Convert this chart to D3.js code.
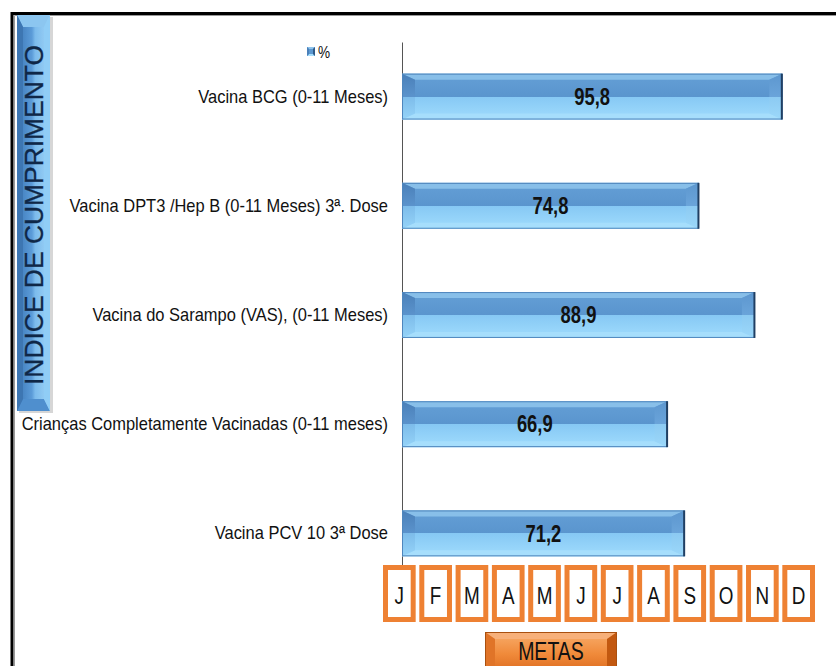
<!DOCTYPE html>
<html lang="pt">
<head>
	<meta charset="UTF-8">
	<title>Indice de cumprimento</title>
	<script src="https://d3js.org/d3.v7.min.js"></script>
	<style>
		body{ margin:0; background:#fff; }
		.narrow{ font-family:"Liberation Sans Narrow","Arial Narrow","Liberation Sans",Arial,sans-serif; }
	</style>
</head>
<body>
	<script type="text/javascript">
		var categories = [
			"Vacina BCG (0-11 Meses)",
			"Vacina DPT3 /Hep B (0-11 Meses) 3ª. Dose",
			"Vacina do Sarampo (VAS), (0-11 Meses)",
			"Crianças Completamente Vacinadas (0-11 meses)",
			"Vacina PCV 10 3ª Dose"
		];
		var values = [95.8, 74.8, 88.9, 66.9, 71.2];
		var valueLabels = ["95,8", "74,8", "88,9", "66,9", "71,2"];
		var months = ["J","F","M","A","M","J","J","A","S","O","N","D"];
		var seriesName = "%";
		var yTitle = "INDICE DE CUMPRIMENTO";
		var xButton = "METAS";

		var W = 836, H = 666;
		var svg = d3.select("body").append("svg")
			.attr("width", W).attr("height", H);

		// squeeze text horizontally (no narrow font installed)
		function squeeze(sel, f){
			sel.each(function(){
				var len = this.getComputedTextLength();
				d3.select(this).attr("textLength", len * f).attr("lengthAdjust", "spacingAndGlyphs");
			});
		}

		var defs = svg.append("defs");
		function grad(id, stops, horiz){
			var g = defs.append("linearGradient").attr("id", id)
				.attr("x1",0).attr("y1",0)
				.attr("x2", horiz ? 1 : 0).attr("y2", horiz ? 0 : 1);
			stops.forEach(function(s){
				g.append("stop").attr("offset", s[0]).attr("stop-color", s[1]);
			});
		}
		grad("barFace", [[0,"#649fd6"],[0.5,"#5a95ce"],[0.5,"#86c8f4"],[1,"#a0dcfd"]]);
		grad("barLeft", [[0,"#4a80b9"],[0.5,"#5b93cc"],[0.5,"#7dbcea"],[1,"#95d3f8"]]);
		grad("barRight", [[0,"#5d97cf"],[0.5,"#6aa4da"],[0.5,"#8ccaf2"],[1,"#9cd8fa"]]);
		grad("boxFace", [[0,"#3d79b8"],[0.45,"#5b9bd8"],[0.55,"#7cbbec"],[1,"#9ed3f7"]], true);
		grad("orange", [[0,"#f8ad6c"],[0.5,"#f08a3a"],[1,"#d9661a"]]);

		// outer frame
		svg.append("path")
			.attr("d", "M12,666 V13.5 H836")
			.attr("fill", "none").attr("stroke", "#000").attr("stroke-width", 3);
		svg.append("path")
			.attr("d", "M14.5,666 V15.5 H836")
			.attr("fill", "none").attr("stroke", "#999").attr("stroke-width", 1);

		var x = d3.scaleLinear().domain([0, 100]).range([402, 799]);
		var y = d3.scaleBand().domain(categories).range([42, 588])
			.paddingInner(0.58).paddingOuter(0.29);

		// category axis
		var axis = svg.append("g")
			.attr("transform", "translate(" + x(0) + ",0)")
			.call(d3.axisLeft(y).tickSize(0).tickPadding(14));
		axis.select(".domain").attr("stroke", "#555").attr("stroke-width", 1);
		axis.selectAll("text")
			.attr("class", "narrow")
			.attr("font-size", 18.5).attr("fill", "#111")
			.call(squeeze, 0.89);

		// beveled bars
		function bevelBar(g, x0, y0, w, h, bx, by, fills){
			var x1 = x0 + w, y1 = y0 + h;
			g.append("rect").attr("x", x0).attr("y", y0).attr("width", w).attr("height", h)
				.attr("fill", fills.face);
			g.append("polygon")
				.attr("points", [[x0,y0],[x1,y0],[x1-bx,y0+by],[x0+bx,y0+by]].join(" "))
				.attr("fill", fills.top);
			g.append("polygon")
				.attr("points", [[x0,y1],[x1,y1],[x1-bx,y1-by],[x0+bx,y1-by]].join(" "))
				.attr("fill", fills.bottom);
			g.append("polygon")
				.attr("points", [[x0,y0],[x0+bx,y0+by],[x0+bx,y1-by],[x0,y1]].join(" "))
				.attr("fill", fills.left);
			g.append("polygon")
				.attr("points", [[x1,y0],[x1-bx,y0+by],[x1-bx,y1-by],[x1,y1]].join(" "))
				.attr("fill", fills.right);
		}

		var bars = svg.append("g");
		categories.forEach(function(c, i){
			var g = bars.append("g");
			var x0 = x(0), w = x(values[i]) - x(0), y0 = y(c), h = y.bandwidth();
			bevelBar(g, x0, y0, w, h, 13, 6, {
				face: "url(#barFace)", top: "#88bfe9", bottom: "#a6defc",
				left: "url(#barLeft)", right: "url(#barRight)"
			});
			g.append("rect").attr("x", x0 + 0.5).attr("y", y0 + 0.5)
				.attr("width", w - 1).attr("height", h - 1)
				.attr("fill", "none").attr("stroke", "#4f86bd").attr("stroke-width", 1);
			g.append("line").attr("x1", x0 + w - 0.5).attr("x2", x0 + w - 0.5)
				.attr("y1", y0).attr("y2", y0 + h)
				.attr("stroke", "#203f63").attr("stroke-width", 2);
			g.append("text").attr("class", "narrow")
				.attr("x", x0 + w / 2).attr("y", y0 + h / 2)
				.attr("dy", "0.36em").attr("text-anchor", "middle")
				.attr("font-size", 23).attr("font-weight", "bold").attr("fill", "#111")
				.text(valueLabels[i])
				.call(squeeze, 0.8);
		});

		// legend
		var lg = svg.append("g");
		bevelBar(lg, 307, 47, 8, 9, 2, 2, {
			face: "#5b97d0", top: "#8fc4ec", bottom: "#a6defc", left: "#4a80b9", right: "#2e5a88"
		});
		lg.append("text").attr("class", "narrow")
			.attr("x", 318).attr("y", 52).attr("dy", "0.36em")
			.attr("font-size", 17).attr("fill", "#111").text(seriesName)
			.call(squeeze, 0.8);

		// vertical title box
		var tb = svg.append("g");
		tb.append("rect").attr("x", 19).attr("y", 17).attr("width", 34).attr("height", 396)
			.attr("fill", "#bbb").attr("opacity", 0.6);
		bevelBar(tb, 17, 15, 33, 396, 6, 12, {
			face: "url(#boxFace)", top: "#8cc6f0", bottom: "#4f8fce",
			left: "#3d76b2", right: "#90cdf6"
		});
		tb.append("text")
			.attr("transform", "translate(43," + (15 + 400 / 2) + ") rotate(-90)")
			.attr("text-anchor", "middle")
			.attr("font-family", "Liberation Sans, Arial, sans-serif")
			.attr("font-size", 25).attr("fill", "#0f2747")
			.attr("stroke", "#0f2747").attr("stroke-width", 0.3)
			.attr("textLength", 340).attr("lengthAdjust", "spacingAndGlyphs")
			.text(yTitle);

		// month boxes
		var m = d3.scaleBand().domain(d3.range(months.length)).range([383, 815]).paddingInner(0.1);
		var mg = svg.append("g");
		months.forEach(function(d, i){
			mg.append("rect")
				.attr("x", m(i) + 2.5).attr("y", 567.5)
				.attr("width", m.bandwidth() - 5).attr("height", 52)
				.attr("fill", "#fff").attr("stroke", "#ee8133").attr("stroke-width", 5);
			mg.append("text").attr("class", "narrow")
				.attr("x", m(i) + m.bandwidth() / 2).attr("y", 596)
				.attr("dy", "0.36em").attr("text-anchor", "middle")
				.attr("font-size", 23).attr("fill", "#111").text(d)
				.call(squeeze, 0.82);
		});

		// METAS button
		var bg = svg.append("g");
		bevelBar(bg, 485, 632, 132, 44, 10, 7, {
			face: "url(#orange)", top: "#f7b07a", bottom: "#c85a12",
			left: "#e07428", right: "#c25810"
		});
		bg.append("rect").attr("x", 485.5).attr("y", 632.5).attr("width", 131).attr("height", 44)
			.attr("fill", "none").attr("stroke", "#a9500f").attr("stroke-width", 1);
		bg.append("text").attr("class", "narrow")
			.attr("x", 551).attr("y", 660)
			.attr("text-anchor", "middle")
			.attr("font-size", 25).attr("fill", "#111").text(xButton)
			.call(squeeze, 0.78);
	</script>
</body>
</html>
